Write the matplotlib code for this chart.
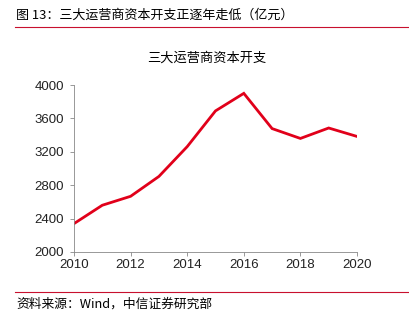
import matplotlib

matplotlib.use("Agg")
import matplotlib.pyplot as plt
from matplotlib.lines import Line2D

plt.rcParams["font.family"] = ["Liberation Sans", "Noto Sans CJK SC", "DejaVu Sans"]

years = [2010, 2011, 2012, 2013, 2014, 2015, 2016, 2017, 2018, 2019, 2020]
capex = [2340, 2560, 2667, 2905, 3262, 3690, 3900, 3478, 3360, 3485, 3384]
x_ticks = [2010, 2012, 2014, 2016, 2018, 2020]
y_ticks = [2000, 2400, 2800, 3200, 3600, 4000]

fig_title = "图 13：三大运营商资本开支正逐年走低（亿元）"
chart_title = "三大运营商资本开支"
source = "资料来源：Wind，中信证券研究部"

CJK = ["Noto Sans CJK SC", "DejaVu Sans"]
W, H = 409, 322
fig = plt.figure(figsize=(W / 100, H / 100), dpi=100, facecolor="white")

ax = fig.add_axes([74 / W, 1 - 252 / H, 283 / W, 167 / H])
ax.plot(years, capex, color="#E1001A", linewidth=2.0, solid_joinstyle="miter")
ax.set_xlim(2010, 2020)
ax.set_ylim(2000, 4000)
ax.set_xticks(x_ticks)
ax.set_yticks(y_ticks)
ax.tick_params(labelsize=9.5, colors="#888888", labelcolor="#222222",
               length=3, width=0.6, direction="out")
ax.tick_params(axis="y", pad=4)
ax.tick_params(axis="x", pad=2)
for side in ("top", "right"):
    ax.spines[side].set_visible(False)
for side in ("left", "bottom"):
    ax.spines[side].set_color("#888888")
    ax.spines[side].set_linewidth(0.6)

fig.text(207 / W, 1 - 58 / H, chart_title, ha="center", va="center",
         fontsize=9.5, family=CJK)

fig.text(16 / W, 1 - 15 / H, fig_title, ha="left", va="center",
         fontsize=9.4, family=CJK)
fig.add_artist(Line2D([15 / W, 1], [1 - 27 / H, 1 - 27 / H],
                      color="#C8102E", linewidth=0.8))

fig.add_artist(Line2D([15 / W, 1], [1 - 292 / H, 1 - 292 / H],
                      color="#C8102E", linewidth=0.8))
fig.text(16 / W, 1 - 304 / H, source, ha="left", va="center",
         fontsize=9.2, family=CJK)

fig.savefig("out.png", dpi=100, facecolor="white")
